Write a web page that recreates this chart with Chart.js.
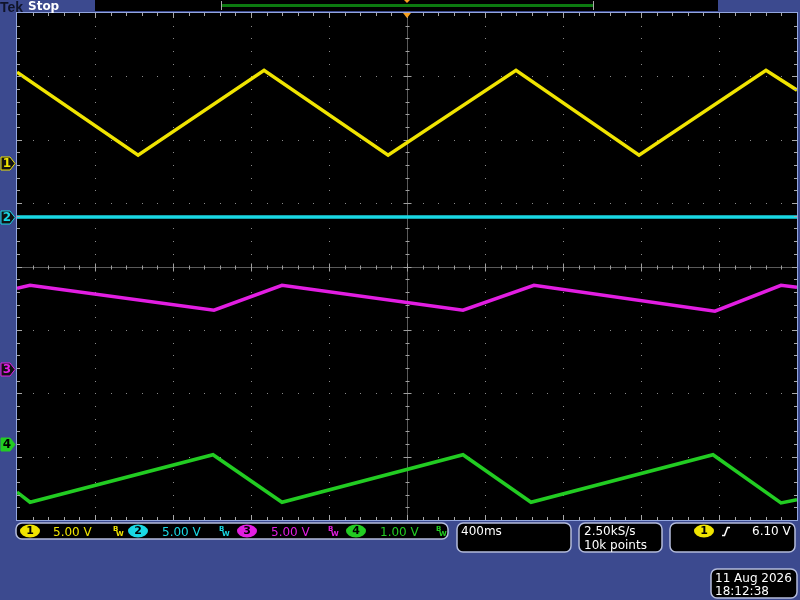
<!DOCTYPE html>
<html>
<head>
<meta charset="utf-8">
<script src="https://cdn.jsdelivr.net/npm/chart.js@4/dist/chart.umd.min.js"></script>
<style>
  html, body { margin: 0; padding: 0; background: #3c4a8f; }
  canvas { display: block; }
</style>
</head>
<body>
<canvas id="scope" width="800" height="600"></canvas>
<script>
// captured waveforms, vertices (time in ms, level in volts)
const ch1Time  = [-2000, -1379, -733, -97, 559, 1190, 1841, 2000];
const ch1Volts = [7.18, 0.63, 7.33, 0.63, 7.33, 0.63, 7.33, 5.76];

const ch2Time  = [-2000, 2000];
const ch2Volts = [0.0, 0.0];

const ch3Time  = [-2000, -1933, -990, -641, 287, 651, 1579, 1918, 2000];
const ch3Volts = [6.39, 6.62, 4.65, 6.62, 4.65, 6.62, 4.57, 6.62, 6.47];

const ch4Time  = [-2000, -1933, -995, -641, 287, 636, 1569, 1918, 2000];
const ch4Volts = [-0.76, -0.92, -0.17, -0.92, -0.17, -0.92, -0.17, -0.93, -0.88];

// scope settings
const voltsPerDiv = [5.0, 5.0, 5.0, 1.0];
const timePerDiv = 400; // ms
const triggerLevel = 6.10;

// channel positions (divisions above centre) and colours
const chPos = [1.63, 0.78, -1.62, -2.8];
const chColor = ['#f0e400', '#19d8e4', '#e21ee2', '#22cc22'];

function toDivs(times, volts, ch) {
  return times.map((t, i) => ({ x: t, y: volts[i] / voltsPerDiv[ch] + chPos[ch] }));
}

const BEZEL = '#3c4a8f';
const FRAME = '#93a6de';
const READOUT_FONT = '12px "DejaVu Sans"';

function roundBox(ctx, x, y, w, h, r) {
  ctx.beginPath();
  ctx.moveTo(x + r, y);
  ctx.arcTo(x + w, y, x + w, y + h, r);
  ctx.arcTo(x + w, y + h, x, y + h, r);
  ctx.arcTo(x, y + h, x, y, r);
  ctx.arcTo(x, y, x + w, y, r);
  ctx.closePath();
  ctx.fillStyle = '#000';
  ctx.fill();
  ctx.strokeStyle = '#b4bcdc';
  ctx.lineWidth = 1.5;
  ctx.stroke();
}

function badge(ctx, cx, cy, n, color) {
  ctx.beginPath();
  ctx.ellipse(cx, cy, 10, 6.5, 0, 0, Math.PI * 2);
  ctx.fillStyle = color;
  ctx.fill();
  ctx.fillStyle = '#000';
  ctx.font = 'bold 11px "DejaVu Sans"';
  ctx.textAlign = 'center';
  ctx.textBaseline = 'middle';
  ctx.fillText(String(n), cx, cy + 0.5);
  ctx.textAlign = 'left';
  ctx.textBaseline = 'alphabetic';
}

function bwIcon(ctx, x, y, color) {
  ctx.fillStyle = color;
  ctx.font = 'bold 7px "DejaVu Sans"';
  ctx.fillText('B', x, y - 2);
  ctx.fillText('W', x + 3, y + 3);
}

// grid, frame and all the scope readouts
const scopeFrame = {
  id: 'scopeFrame',
  beforeDraw(chart) {
    const { ctx, chartArea: a, scales } = chart;
    const xs = scales.x, ys = scales.y;
    ctx.save();
    ctx.fillStyle = BEZEL;
    ctx.fillRect(0, 0, chart.width, chart.height);
    ctx.fillStyle = '#000';
    ctx.fillRect(a.left, a.top, a.right - a.left, a.bottom - a.top);

    // dotted graticule
    ctx.fillStyle = '#8a8a8a';
    for (let i = 1; i < 10; i++) {
      if (i === 5) continue;
      const px = Math.round(xs.getPixelForValue(-2000 + i * timePerDiv));
      for (let j = 1; j < 40; j++) {
        const py = Math.round(ys.getPixelForValue(-4 + j / 5));
        ctx.fillRect(px, py, 1, 1);
      }
    }
    for (let k = 1; k < 8; k++) {
      if (k === 4) continue;
      const py = Math.round(ys.getPixelForValue(-4 + k));
      for (let j = 1; j < 50; j++) {
        const px = Math.round(xs.getPixelForValue(-2000 + j * timePerDiv / 5));
        ctx.fillRect(px, py, 1, 1);
      }
    }

    // centre cross with minor ticks
    const cx = Math.round(xs.getPixelForValue(0)) + 0.5;
    const cy = Math.round(ys.getPixelForValue(0)) + 0.5;
    ctx.strokeStyle = '#5a5a5a';
    ctx.lineWidth = 1;
    ctx.beginPath();
    ctx.moveTo(cx, a.top); ctx.lineTo(cx, a.bottom);
    ctx.moveTo(a.left, cy); ctx.lineTo(a.right, cy);
    ctx.stroke();
    ctx.strokeStyle = '#a0a0a0';
    ctx.beginPath();
    for (let j = 1; j < 40; j++) {
      const py = Math.round(ys.getPixelForValue(-4 + j / 5)) + 0.5;
      const len = j % 5 === 0 ? 4 : 2;
      ctx.moveTo(cx - len, py); ctx.lineTo(cx + len, py);
    }
    for (let j = 1; j < 50; j++) {
      const px = Math.round(xs.getPixelForValue(-2000 + j * timePerDiv / 5)) + 0.5;
      const len = j % 5 === 0 ? 4 : 2;
      ctx.moveTo(px, cy - len); ctx.lineTo(px, cy + len);
    }
    ctx.stroke();
    ctx.restore();
  },
  afterDraw(chart) {
    const { ctx, chartArea: a, scales } = chart;
    const xs = scales.x, ys = scales.y;
    ctx.save();

    // frame with edge rulers
    ctx.strokeStyle = FRAME;
    ctx.lineWidth = 1;
    ctx.strokeRect(a.left - 0.5, a.top - 0.5, a.right - a.left + 1, a.bottom - a.top + 1);
    ctx.strokeStyle = '#a8a8a8';
    ctx.beginPath();
    for (let j = 1; j < 50; j++) {
      const px = Math.round(xs.getPixelForValue(-2000 + j * timePerDiv / 5)) + 0.5;
      const len = j % 5 === 0 ? 5 : 3;
      ctx.moveTo(px, a.top); ctx.lineTo(px, a.top + len);
      ctx.moveTo(px, a.bottom); ctx.lineTo(px, a.bottom - len);
    }
    for (let j = 1; j < 40; j++) {
      const py = Math.round(ys.getPixelForValue(-4 + j / 5)) + 0.5;
      const len = j % 5 === 0 ? 5 : 3;
      ctx.moveTo(a.left, py); ctx.lineTo(a.left + len, py);
      ctx.moveTo(a.right, py); ctx.lineTo(a.right - len, py);
    }
    ctx.stroke();

    // trigger position marker
    const tx = xs.getPixelForValue(0);
    ctx.fillStyle = '#f5a020';
    ctx.beginPath();
    ctx.moveTo(tx - 4, a.top); ctx.lineTo(tx + 4, a.top); ctx.lineTo(tx, a.top + 5);
    ctx.closePath(); ctx.fill();

    // channel ground markers
    for (let c = 0; c < 4; c++) {
      const y = Math.round(ys.getPixelForValue(chPos[c])) + 0.5;
      ctx.beginPath();
      ctx.moveTo(1, y - 6.5); ctx.lineTo(10, y - 6.5); ctx.lineTo(15, y);
      ctx.lineTo(10, y + 6.5); ctx.lineTo(1, y + 6.5); ctx.closePath();
      ctx.fillStyle = c === 3 ? chColor[c] : '#111';
      ctx.fill();
      ctx.strokeStyle = chColor[c];
      ctx.lineWidth = 1;
      ctx.stroke();
      ctx.fillStyle = c === 3 ? '#000' : chColor[c];
      ctx.font = 'bold 12px "DejaVu Sans"';
      ctx.textAlign = 'center';
      ctx.textBaseline = 'middle';
      ctx.fillText(String(c + 1), 7, y + 0.5);
    }
    ctx.textAlign = 'left';
    ctx.textBaseline = 'alphabetic';

    // top status bar
    ctx.fillStyle = '#000';
    ctx.fillRect(95, 0, 623, 11);
    ctx.fillStyle = '#0c7a10';
    ctx.fillRect(222, 4, 371, 3);
    ctx.strokeStyle = '#aaa';
    ctx.beginPath();
    ctx.moveTo(221.5, 1); ctx.lineTo(221.5, 10);
    ctx.moveTo(593.5, 1); ctx.lineTo(593.5, 10);
    ctx.stroke();
    ctx.fillStyle = '#f5a020';
    ctx.beginPath();
    ctx.moveTo(404, 0); ctx.lineTo(410, 0); ctx.lineTo(407, 3);
    ctx.closePath(); ctx.fill();
    ctx.fillStyle = '#10142a';
    ctx.font = 'bold 14px "Liberation Sans"';
    ctx.fillText('Tek', 0, 12);
    ctx.fillStyle = '#fff';
    ctx.font = 'bold 12px "DejaVu Sans"';
    ctx.fillText('Stop', 28, 10);

    // vertical readout
    roundBox(ctx, 16, 523, 432, 16, 6);
    const badgeX = [30, 138, 247, 356];
    const textX = [53, 162, 271, 380];
    const bwX = [113, 219, 328, 436];
    for (let c = 0; c < 4; c++) {
      badge(ctx, badgeX[c], 531, c + 1, chColor[c]);
      ctx.fillStyle = chColor[c];
      ctx.font = READOUT_FONT;
      ctx.fillText(voltsPerDiv[c].toFixed(2) + ' V', textX[c], 536);
      bwIcon(ctx, bwX[c], 533, chColor[c]);
    }

    // horizontal, acquisition and trigger readouts
    roundBox(ctx, 457, 523, 114, 29, 6);
    roundBox(ctx, 579, 523, 83, 29, 6);
    roundBox(ctx, 670, 523, 125, 29, 6);
    ctx.fillStyle = '#fff';
    ctx.font = READOUT_FONT;
    ctx.fillText(timePerDiv + 'ms', 461, 535);
    ctx.fillText('2.50kS/s', 584, 535);
    ctx.fillText('10k points', 584, 549);
    badge(ctx, 704, 531, 1, chColor[0]);
    ctx.strokeStyle = '#fff';
    ctx.lineWidth = 1.5;
    ctx.beginPath();
    ctx.moveTo(722, 535.5); ctx.lineTo(724.5, 535.5);
    ctx.lineTo(727.5, 527.5); ctx.lineTo(730, 527.5);
    ctx.stroke();
    ctx.fillStyle = '#fff';
    ctx.font = READOUT_FONT;
    ctx.fillText(triggerLevel.toFixed(2) + ' V', 752, 535);

    // date stamp
    roundBox(ctx, 711, 569, 86, 29, 6);
    ctx.fillStyle = '#fff';
    ctx.font = READOUT_FONT;
    ctx.fillText('11 Aug 2026', 715, 582);
    ctx.fillText('18:12:38', 715, 595);

    ctx.restore();
  }
};

const ctx = document.getElementById('scope').getContext('2d');
const traces = [
  { t: ch1Time, v: ch1Volts },
  { t: ch2Time, v: ch2Volts },
  { t: ch3Time, v: ch3Volts },
  { t: ch4Time, v: ch4Volts }
];

window.scopeChart = new Chart(ctx, {
  type: 'line',
  data: {
    datasets: traces.map((tr, c) => ({
      label: 'CH' + (c + 1),
      data: toDivs(tr.t, tr.v, c),
      borderColor: chColor[c],
      borderWidth: 3.5,
      pointRadius: 0,
      tension: 0,
      fill: false
    }))
  },
  options: {
    responsive: false,
    animation: false,
    devicePixelRatio: 1,
    layout: { padding: { left: 17, right: 3, top: 13, bottom: 80 } },
    plugins: { legend: { display: false }, tooltip: { enabled: false } },
    scales: {
      x: { type: 'linear', min: -2000, max: 2000, display: false },
      y: { type: 'linear', min: -4, max: 4, display: false }
    }
  },
  plugins: [scopeFrame]
});
</script>
</body>
</html>
